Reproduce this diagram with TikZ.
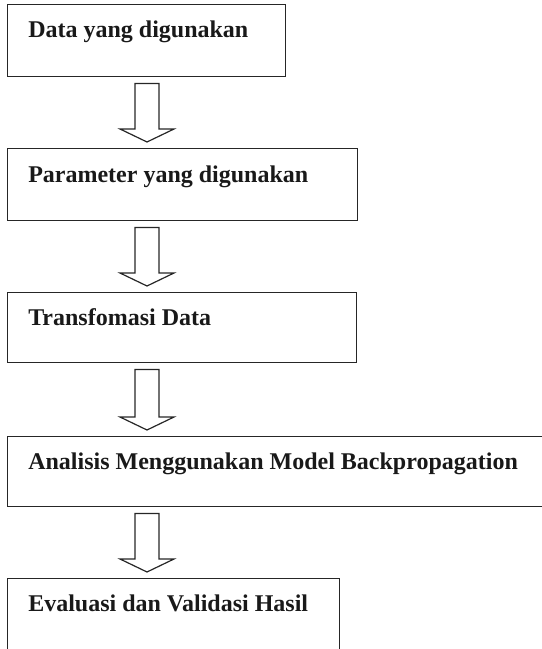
\documentclass[tikz,border=0pt]{standalone}
\usepackage{fontspec}
\setmainfont{Liberation Serif}
\usetikzlibrary{calc}

% horizontal position of the hollow arrows
\newcommand{\arrowx}{110.25pt}

\tikzset{
    stepbox/.style={draw=black!85, line width=1.1pt, anchor=north west, inner sep=0pt},
    steptext/.style={anchor=base west, inner sep=0pt, text=black!90,
        font=\bfseries\fontsize{18}{21}\selectfont},
    flowarrow/.style={draw=black!85, line width=0.9pt, line join=miter, to path={
        let \p1=(\tikztostart.south), \p2=(\tikztotarget.north) in
        (\arrowx-9pt, \y1-4.5pt) -- (\arrowx-9pt, \y2+14.25pt)
        -- (\arrowx-20.25pt, \y2+14.25pt) -- (\arrowx, \y2+4.5pt)
        -- (\arrowx+20.25pt, \y2+14.25pt) -- (\arrowx+9pt, \y2+14.25pt)
        -- (\arrowx+9pt, \y1-4.5pt) -- cycle}}
}

\begin{document}
\begin{tikzpicture}[x=0.75pt, y=-0.75pt]
        \useasboundingbox (0, 0) rectangle (542, 649);
        % the five steps, top to bottom
        \node[stepbox, minimum width=208.5pt, minimum height=54pt] (data) at (7, 4) {};
        \node[stepbox, minimum width=262.5pt, minimum height=54pt] (param) at (7, 148) {};
        \node[stepbox, minimum width=261.75pt, minimum height=52.5pt] (trans) at (7, 292) {};
        \node[stepbox, minimum width=420pt, minimum height=52.5pt] (analisis) at (7, 436) {};
        \node[stepbox, minimum width=249pt, minimum height=75pt] (eval) at (7, 578) {};
        % their labels, near the upper left corner
        \node[steptext] (datatext) at ([shift={(15.75pt, -25.5pt)}]data.north west) {Data yang digunakan};
        \node[steptext] (paramtext) at ([shift={(15.75pt, -25.5pt)}]param.north west) {Parameter yang digunakan};
        \node[steptext] (transtext) at ([shift={(15.75pt, -24.75pt)}]trans.north west) {Transfomasi Data};
        \node[steptext] (analisistext) at ([shift={(15.75pt, -24.75pt)}]analisis.north west) {Analisis Menggunakan Model Backpropagation};
        \node[steptext] (evaltext) at ([shift={(15.75pt, -24.75pt)}]eval.north west) {Evaluasi dan Validasi Hasil};
        % hollow arrows between the steps
        \draw[flowarrow] (data) to (param);
        \draw[flowarrow] (param) to (trans);
        \draw[flowarrow] (trans) to (analisis);
        \draw[flowarrow] (analisis) to (eval);
    \end{tikzpicture}
\end{document}
